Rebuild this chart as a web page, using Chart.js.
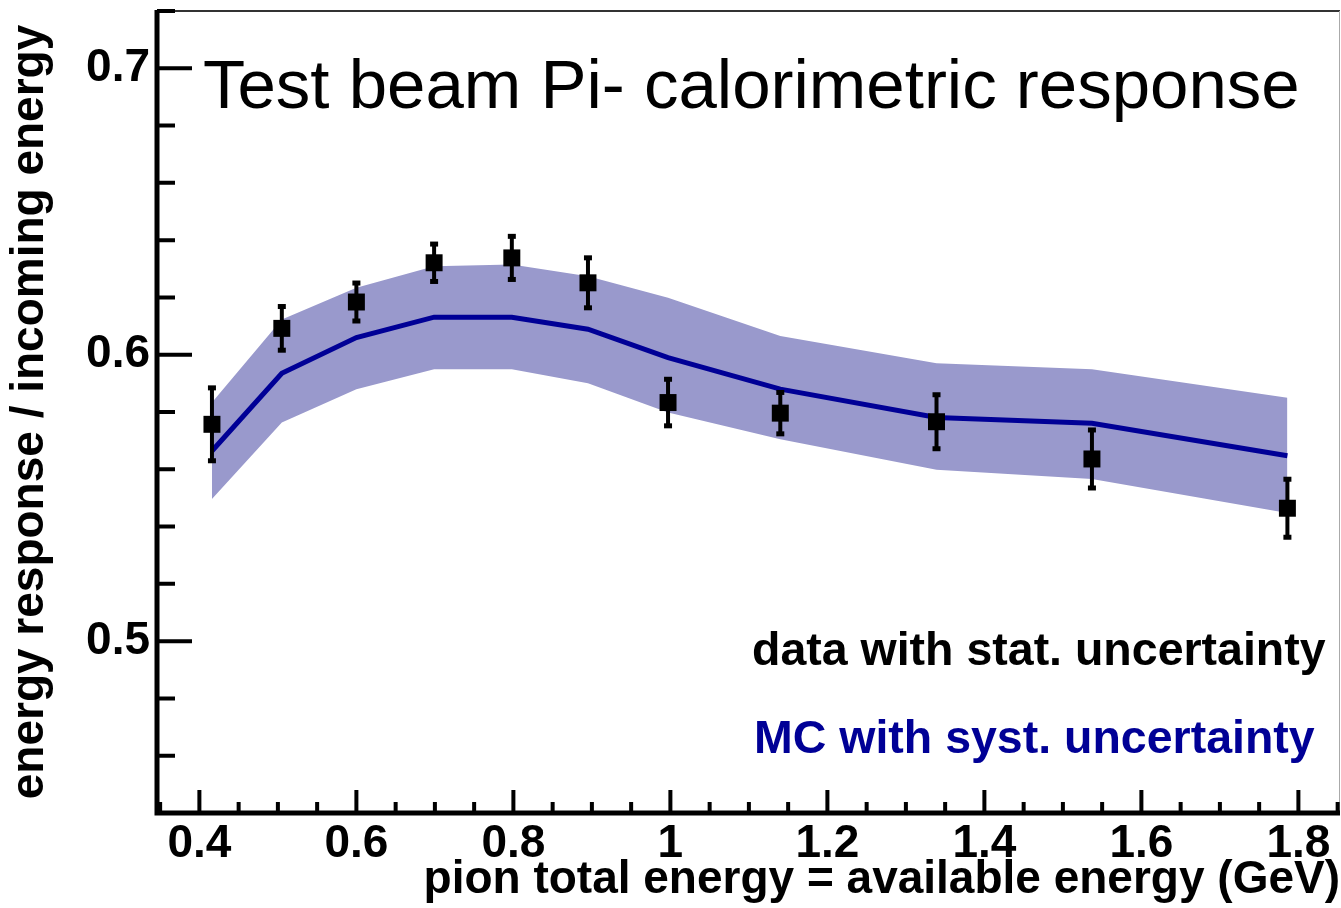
<!DOCTYPE html>
<html>
<head>
<meta charset="utf-8">
<script src="https://cdn.jsdelivr.net/npm/chart.js@4.4.1/dist/chart.umd.min.js"></script>
<style>
  html, body { margin: 0; padding: 0; background: #fff; }
  canvas { display: block; }
</style>
</head>
<body>
<canvas id="responseChart" width="1341" height="908"></canvas>
<script>
// pion total energy (GeV), shared by data and MC
const energies = [0.416, 0.505, 0.600, 0.699, 0.798, 0.895, 0.997, 1.140, 1.339, 1.537, 1.786];

// test beam data with stat. uncertainty
const dataResponse = [0.5757, 0.6092, 0.6184, 0.6321, 0.6338, 0.6251, 0.5833, 0.5796, 0.5766, 0.5636, 0.5464];
const dataStatErr  = [0.0129, 0.0078, 0.0068, 0.0067, 0.0077, 0.0089, 0.0083, 0.0074, 0.0096, 0.0103, 0.0103];

// MC central value and systematic band
const mcResponse = [0.5664, 0.5935, 0.6060, 0.6131, 0.6131, 0.6089, 0.5990, 0.5880, 0.5781, 0.5761, 0.5647];
const mcUpper    = [0.5833, 0.6123, 0.6234, 0.6309, 0.6315, 0.6274, 0.6199, 0.6065, 0.5970, 0.5949, 0.5850];
const mcLower    = [0.5496, 0.5763, 0.5879, 0.5949, 0.5949, 0.5900, 0.5798, 0.5705, 0.5598, 0.5566, 0.5447];

// axis ticks
const xTickLabels = [0.4, 0.6, 0.8, 1.0, 1.2, 1.4, 1.6, 1.8];
const yTickLabels = [0.5, 0.6, 0.7];
const xMinorStep = 0.05;
const yMinorStep = 0.02;

const FONT = '"Liberation Sans", Arial, Helvetica, sans-serif';
const MC_BLUE = '#000096';

const toPoints = ys => energies.map((e, i) => ({ x: e, y: ys[i] }));

// error bars, ROOT-style frame with inward ticks, and in-plot texts
const rootStyle = {
  id: 'rootStyle',
  afterDatasetsDraw(chart) {
    const { ctx, scales: { x, y } } = chart;
    ctx.save();
    ctx.strokeStyle = '#000';
    ctx.fillStyle = '#000';
    ctx.lineWidth = 4;
    energies.forEach((e, i) => {
      const px = x.getPixelForValue(e);
      const top = y.getPixelForValue(dataResponse[i] + dataStatErr[i]);
      const bot = y.getPixelForValue(dataResponse[i] - dataStatErr[i]);
      ctx.beginPath();
      ctx.moveTo(px, top);
      ctx.lineTo(px, bot);
      ctx.stroke();
      ctx.fillRect(px - 4, top - 2, 8, 5);
      ctx.fillRect(px - 4, bot - 3, 8, 5);
    });
    ctx.restore();
  },
  afterDraw(chart) {
    const { ctx, chartArea: a, scales: { x, y } } = chart;
    ctx.save();

    // top and right frame
    ctx.strokeStyle = '#333';
    ctx.lineWidth = 2;
    ctx.beginPath();
    ctx.moveTo(a.left, a.top);
    ctx.lineTo(a.right, a.top);
    ctx.stroke();
    ctx.strokeStyle = '#aaa';
    ctx.lineWidth = 1;
    ctx.beginPath();
    ctx.moveTo(a.right - 0.5, a.top);
    ctx.lineTo(a.right - 0.5, a.bottom);
    ctx.stroke();

    // thick axes
    ctx.strokeStyle = '#000';
    ctx.lineWidth = 5;
    ctx.beginPath();
    ctx.moveTo(a.left, a.top - 1);
    ctx.lineTo(a.left, a.bottom + 2.5);
    ctx.moveTo(a.left - 2.5, a.bottom);
    ctx.lineTo(a.right, a.bottom);
    ctx.stroke();

    // inward ticks
    ctx.lineWidth = 4;
    ctx.beginPath();
    for (let v = Math.ceil(x.min / xMinorStep) * xMinorStep; v <= x.max + 1e-9; v += xMinorStep) {
      const major = xTickLabels.some(t => Math.abs(t - v) < 1e-6);
      const px = x.getPixelForValue(v);
      ctx.moveTo(px, a.bottom);
      ctx.lineTo(px, a.bottom - (major ? 23 : 11));
    }
    for (let v = Math.ceil(y.min / yMinorStep - 1e-6) * yMinorStep; v <= y.max + 1e-9; v += yMinorStep) {
      const major = yTickLabels.some(t => Math.abs(t - v) < 1e-6);
      const py = y.getPixelForValue(v);
      if (py > a.bottom - 2) continue;
      ctx.moveTo(a.left, py);
      ctx.lineTo(a.left + (major ? 35 : 18), py);
    }
    ctx.stroke();

    // title and legend texts
    ctx.textBaseline = 'alphabetic';
    ctx.textAlign = 'left';
    ctx.fillStyle = '#000';
    ctx.font = '69px ' + FONT;
    ctx.fillText('Test beam Pi- calorimetric response', 203, 108);
    ctx.font = 'bold 46.5px ' + FONT;
    ctx.fillText('data with stat. uncertainty', 752, 665);
    ctx.fillStyle = MC_BLUE;
    ctx.fillText('MC with syst. uncertainty', 754, 753);
    ctx.restore();
  }
};

new Chart(document.getElementById('responseChart'), {
  type: 'line',
  data: {
    datasets: [
      {
        label: 'data with stat. uncertainty',
        data: toPoints(dataResponse),
        showLine: false,
        pointStyle: 'rect',
        pointRadius: 12,
        pointBorderWidth: 0,
        pointBackgroundColor: '#000',
        borderColor: '#000',
      },
      {
        label: 'MC with syst. uncertainty',
        data: toPoints(mcResponse),
        borderColor: MC_BLUE,
        borderWidth: 5,
        pointRadius: 0,
        tension: 0,
        fill: false,
      },
      {
        label: 'MC upper',
        data: toPoints(mcUpper),
        borderWidth: 0,
        borderColor: 'rgba(0,0,0,0)',
        pointRadius: 0,
        backgroundColor: '#9999cc',
        fill: '+1',
      },
      {
        label: 'MC lower',
        data: toPoints(mcLower),
        borderWidth: 0,
        borderColor: 'rgba(0,0,0,0)',
        pointRadius: 0,
        fill: false,
      }
    ]
  },
  options: {
    responsive: false,
    animation: false,
    layout: {
      autoPadding: false,
      padding: { top: 11, right: 1, left: 0, bottom: 0 }
    },
    plugins: {
      legend: { display: false },
      tooltip: { enabled: false },
    },
    scales: {
      x: {
        type: 'linear',
        min: 0.346,
        max: 1.853,
        afterBuildTicks: scale => {
          scale.ticks = xTickLabels.map(v => ({ value: v }));
        },
        afterFit: scale => {
          scale.height = 95;
          scale.paddingLeft = 0;
          scale.paddingRight = 0;
        },
        grid: { display: false, drawTicks: false },
        border: { display: false },
        ticks: {
          color: '#000',
          padding: 4,
          maxRotation: 0,
          autoSkip: false,
          font: { family: FONT, size: 46, weight: 'bold' },
          callback: value => String(+value.toFixed(1)),
        },
        title: {
          display: true,
          text: 'pion total energy = available energy (GeV)',
          align: 'end',
          color: '#000',
          padding: { top: 0, bottom: 0 },
          font: { family: FONT, size: 46, weight: 'bold' },
        }
      },
      y: {
        min: 0.44,
        max: 0.72,
        afterBuildTicks: scale => {
          scale.ticks = yTickLabels.map(v => ({ value: v }));
        },
        afterFit: scale => {
          scale.width = 157;
          scale.paddingTop = 0;
          scale.paddingBottom = 0;
        },
        grid: { display: false, drawTicks: false },
        border: { display: false },
        ticks: {
          color: '#000',
          padding: 7,
          font: { family: FONT, size: 46, weight: 'bold' },
          callback: value => String(+value.toFixed(1)),
        },
        title: {
          display: true,
          text: 'energy response / incoming energy',
          color: '#000',
          padding: { top: 3, bottom: 0 },
          font: { family: FONT, size: 46, weight: 'bold' },
        }
      }
    }
  },
  plugins: [rootStyle]
});
</script>
</body>
</html>
